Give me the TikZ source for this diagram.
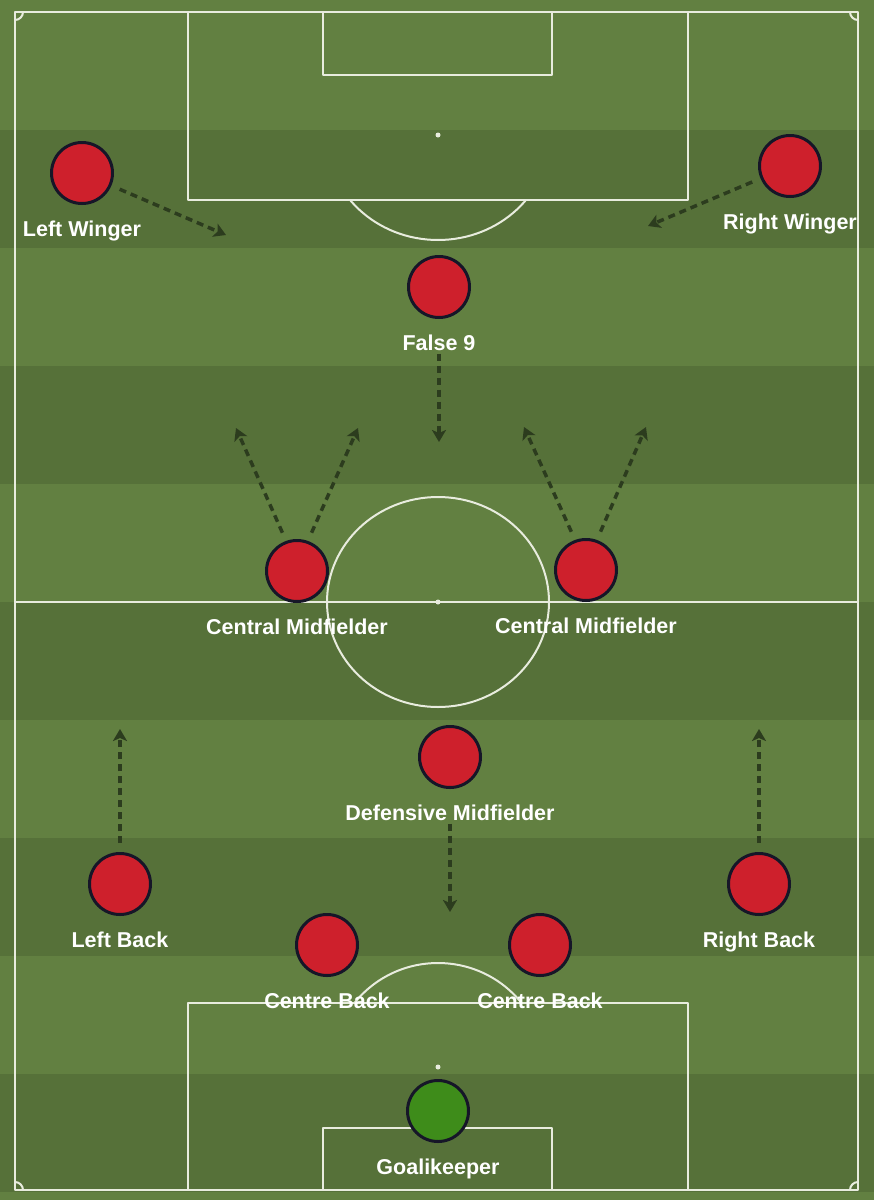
\documentclass[tikz,border=0pt]{standalone}
\usepackage{fontspec}
\setmainfont{Liberation Sans}
\usetikzlibrary{arrows.meta}
\definecolor{grassL}{RGB}{98,128,65}
\definecolor{grassD}{RGB}{86,113,57}
\definecolor{chalk}{RGB}{232,236,222}
\definecolor{shirt}{RGB}{206,32,44}
\definecolor{gkshirt}{RGB}{62,140,26}
\definecolor{rim}{RGB}{22,22,40}
\definecolor{runc}{RGB}{44,60,30}
\tikzset{
  player/.style={circle, draw=rim, line width=3pt, fill=shirt, minimum size=61pt, inner sep=0pt},
  keeper/.style={player, fill=gkshirt},
  plabel/.style={text=white, font=\bfseries\fontsize{21.5}{24}\selectfont, inner sep=1pt, label distance=14.5pt},
  pline/.style={draw=chalk, line width=2pt},
  run/.style={draw=runc, line width=3.5pt, dash pattern=on 7pt off 5pt, -{Stealth[length=12pt,width=14pt,inset=3pt]}, shorten <=9pt}
}
\begin{document}
\begin{tikzpicture}[x=1pt, y=-1pt, line join=round]
\useasboundingbox (0,0) rectangle (874,1200);
% grass stripes
\fill[grassL] (0,0) rectangle (874,1200);
\foreach \y in {130,366,602,838,1074}
  \fill[grassD] (0,\y) rectangle (874,\y+118);
% pitch markings
\draw[pline] (15,12) rectangle (858,1190);
\draw[pline] (15,602) -- (858,602);
\draw[pline] (438,602) ellipse [x radius=111, y radius=105];
\fill[chalk] (438,602) circle (2.5);
\draw[pline] (188,12) rectangle (688,200);
\draw[pline] (323,12) rectangle (552,75);
\fill[chalk] (438,135) circle (2.5);
\begin{scope}
  \clip (0,201) rectangle (874,300);
  \draw[pline] (438,135) ellipse [x radius=112, y radius=105];
\end{scope}
\draw[pline] (188,1190) rectangle (688,1003);
\draw[pline] (323,1190) rectangle (552,1128);
\fill[chalk] (438,1067) circle (2.5);
\begin{scope}
  \clip (0,900) rectangle (874,1002);
  \draw[pline] (438,1067) ellipse [x radius=106, y radius=104];
\end{scope}
% corners
\draw[pline] (23,12) arc (0:90:8);
\draw[pline] (850,12) arc (180:90:8);
\draw[pline] (23,1190) arc (0:-90:8);
\draw[pline] (850,1190) arc (180:270:8);
% players
\node[player, label={[plabel]below:Left Winger}] (lw) at (82,173) {};
\node[player, label={[plabel]below:Right Winger}] (rw) at (790,166) {};
\node[player, label={[plabel, name=f9l]below:False 9}] (f9) at (439,287) {};
\node[player, label={[plabel]below:Central Midfielder}] (lcm) at (297,571) {};
\node[player, label={[plabel]below:Central Midfielder}] (rcm) at (586,570) {};
\node[player, label={[plabel, name=dml]below:Defensive Midfielder}] (dm) at (450,757) {};
\node[player, label={[plabel]below:Left Back}] (lb) at (120,884) {};
\node[player, label={[plabel]below:Right Back}] (rb) at (759,884) {};
\node[player, label={[plabel]below:Centre Back}] (lcb) at (327,945) {};
\node[player, label={[plabel]below:Centre Back}] (rcb) at (540,945) {};
\node[keeper, label={[plabel]below:Goalikeeper}] (gk) at (438,1111) {};
% runs
\coordinate (lwT) at (226,235);
\coordinate (rwT) at (648,226);
\coordinate (f9T) at (439,442);
\coordinate (lcmA) at (236,428);
\coordinate (lcmB) at (358,428);
\coordinate (rcmA) at (524,427);
\coordinate (rcmB) at (646,427);
\coordinate (lbT) at (120,729);
\coordinate (rbT) at (759,729);
\coordinate (dmT) at (450,912);
\draw[run] (lw) -- (lwT);
\draw[run] (rw) -- (rwT);
\draw[run, shorten <=2pt] (f9l) -- (f9T);
\draw[run] (lcm.110) -- (lcmA);
\draw[run] (lcm.70) -- (lcmB);
\draw[run] (rcm.110) -- (rcmA);
\draw[run] (rcm.70) -- (rcmB);
\draw[run] (lb) -- (lbT);
\draw[run] (rb) -- (rbT);
\draw[run, shorten <=2pt] (dml) -- (dmT);
\end{tikzpicture}
\end{document}
